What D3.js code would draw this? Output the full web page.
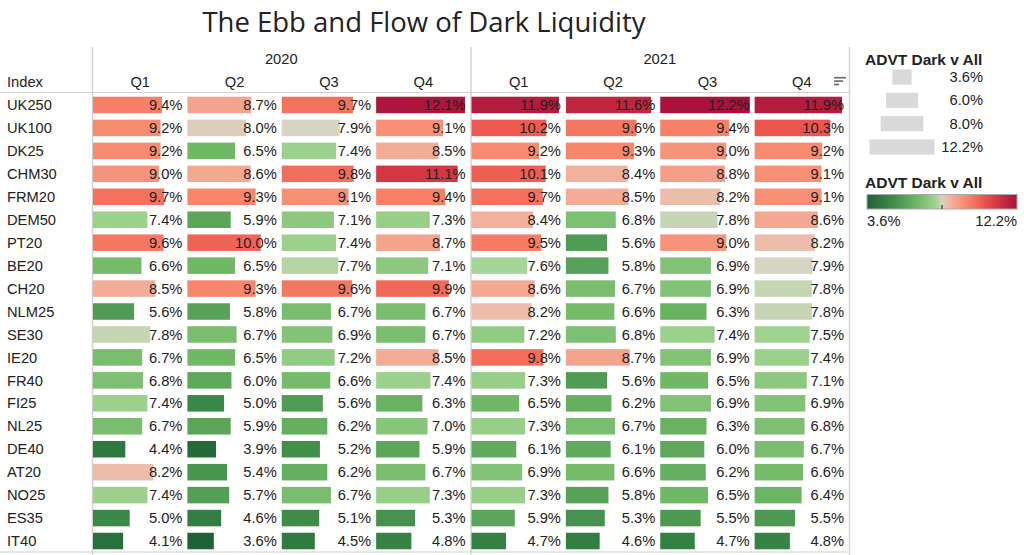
<!DOCTYPE html>
<html>
<head>
<meta charset="utf-8">
<script src="https://cdn.jsdelivr.net/npm/d3@7"></script>
<style>
  body { margin: 0; background: #fff; }
  text { font-family: "Liberation Sans", Arial, sans-serif; fill: #222; }
</style>
</head>
<body>
<div id="chart"></div>
<script>
const indices = ["UK250", "UK100", "DK25", "CHM30", "FRM20", "DEM50", "PT20", "BE20", "CH20", "NLM25",
  "SE30", "IE20", "FR40", "FI25", "NL25", "DE40", "AT20", "NO25", "ES35", "IT40"];
const years = ["2020", "2021"];
const quarters = ["Q1", "Q2", "Q3", "Q4"];

const q1_2020 = [9.4, 9.2, 9.2, 9.0, 9.7, 7.4, 9.6, 6.6, 8.5, 5.6, 7.8, 6.7, 6.8, 7.4, 6.7, 4.4, 8.2, 7.4, 5.0, 4.1];
const q2_2020 = [8.7, 8.0, 6.5, 8.6, 9.3, 5.9, 10.0, 6.5, 9.3, 5.8, 6.7, 6.5, 6.0, 5.0, 5.9, 3.9, 5.4, 5.7, 4.6, 3.6];
const q3_2020 = [9.7, 7.9, 7.4, 9.8, 9.1, 7.1, 7.4, 7.7, 9.6, 6.7, 6.9, 7.2, 6.6, 5.6, 6.2, 5.2, 6.2, 6.7, 5.1, 4.5];
const q4_2020 = [12.1, 9.1, 8.5, 11.1, 9.4, 7.3, 8.7, 7.1, 9.9, 6.7, 6.7, 8.5, 7.4, 6.3, 7.0, 5.9, 6.7, 7.3, 5.3, 4.8];
const q1_2021 = [11.9, 10.2, 9.2, 10.1, 9.7, 8.4, 9.5, 7.6, 8.6, 8.2, 7.2, 9.8, 7.3, 6.5, 7.3, 6.1, 6.9, 7.3, 5.9, 4.7];
const q2_2021 = [11.6, 9.6, 9.3, 8.4, 8.5, 6.8, 5.6, 5.8, 6.7, 6.6, 6.8, 8.7, 5.6, 6.2, 6.7, 6.1, 6.6, 5.8, 5.3, 4.6];
const q3_2021 = [12.2, 9.4, 9.0, 8.8, 8.2, 7.8, 9.0, 6.9, 6.9, 6.3, 7.4, 6.9, 6.5, 6.9, 6.3, 6.0, 6.2, 6.5, 5.5, 4.7];
const q4_2021 = [11.9, 10.3, 9.2, 9.1, 9.1, 8.6, 8.2, 7.9, 7.8, 7.8, 7.5, 7.4, 7.1, 6.9, 6.8, 6.7, 6.6, 6.4, 5.5, 4.8];

const sizeLegendValues = [3.6, 6.0, 8.0, 12.2];
const colorDomain = [3.6, 5.0, 6.5, 7.6, 7.9, 8.3, 9.3, 10.5, 12.2];
const colorRange = ["#1f6235", "#3b8948", "#70b866", "#a5d695", "#d6d4c3", "#f1b6a3", "#f8866a", "#e94b47", "#a8123b"];

const columns = [
  { year: "2020", quarter: "Q1", values: q1_2020 },
  { year: "2020", quarter: "Q2", values: q2_2020 },
  { year: "2020", quarter: "Q3", values: q3_2020 },
  { year: "2020", quarter: "Q4", values: q4_2020 },
  { year: "2021", quarter: "Q1", values: q1_2021 },
  { year: "2021", quarter: "Q2", values: q2_2021 },
  { year: "2021", quarter: "Q3", values: q3_2021 },
  { year: "2021", quarter: "Q4", values: q4_2021 },
];

const cells = [];
columns.forEach((c) => {
  c.values.forEach((v, i) => cells.push({ year: c.year, quarter: c.quarter, index: indices[i], value: v }));
});

const width = 1024;
const height = 555;
const table = { left: 92, right: 849, top: 93.5, bottom: 552.5, headTop: 47 };

const svg = d3
  .select("#chart")
  .append("svg")
  .attr("width", width)
  .attr("height", height)
  .attr("viewBox", [0, 0, width, height]);

const fmt = (v) => d3.format(".1f")(v) + "%";

const yearX = d3.scaleBand(years, [table.left, table.right]);
const quarterX = d3.scaleBand(quarters, [1, yearX.bandwidth()]);
const y = d3.scaleBand(indices, [table.top, table.bottom]).paddingInner(0.28).paddingOuter(0.14);
const len = d3.scaleLinear([0, 12.8], [0, 94]);
const color = d3.scaleLinear(colorDomain, colorRange);

const colLeft = (d) => yearX(d.year) + quarterX(d.quarter);

// Title
svg
  .append("text")
  .attr("x", 424)
  .attr("y", 32)
  .attr("text-anchor", "middle")
  .style("font-family", "'Open Sans', sans-serif")
  .style("font-size", "27.5px")
  .text("The Ebb and Flow of Dark Liquidity");

// Grid lines
const grid = svg.append("g").attr("stroke", "#d0d0d0").attr("fill", "none");
grid.append("line").attr("x1", 0).attr("x2", table.right).attr("y1", 92.5).attr("y2", 92.5);
grid.append("line").attr("x1", 0).attr("x2", table.right).attr("y1", 552).attr("y2", 552);
grid
  .selectAll("line.v")
  .data([table.left, yearX("2021"), table.right])
  .join("line")
  .attr("class", "v")
  .attr("x1", (d) => d + 0.5)
  .attr("x2", (d) => d + 0.5)
  .attr("y1", table.headTop)
  .attr("y2", height)
  .attr("stroke-width", 1.4);

// Header
const head = svg.append("g").style("font-size", "14.7px");
head.append("text").attr("x", 7).attr("y", 81.7).attr("dy", "0.35em").text("Index");
head
  .selectAll("text.year")
  .data(years)
  .join("text")
  .attr("class", "year")
  .attr("x", (d) => yearX(d) + yearX.bandwidth() / 2)
  .attr("y", 59)
  .attr("dy", "0.35em")
  .attr("text-anchor", "middle")
  .text((d) => d);
head
  .selectAll("text.q")
  .data(columns)
  .join("text")
  .attr("class", "q")
  .attr("x", (d) => colLeft(d) + quarterX.bandwidth() / 2)
  .attr("y", 81.7)
  .attr("dy", "0.35em")
  .attr("text-anchor", "middle")
  .text((d) => d.quarter);

// Sort icon
svg
  .append("g")
  .attr("stroke", "#666")
  .attr("stroke-width", 1.6)
  .selectAll("line")
  .data([12, 9, 5])
  .join("line")
  .attr("x1", 834)
  .attr("x2", (d) => 834 + d)
  .attr("y1", (d, i) => 77.7 + i * 3.4)
  .attr("y2", (d, i) => 77.7 + i * 3.4);

// Row labels
svg
  .append("g")
  .style("font-size", "14.7px")
  .selectAll("text")
  .data(indices)
  .join("text")
  .attr("x", 7)
  .attr("y", (d) => y(d) + y.bandwidth() / 2)
  .attr("dy", "0.35em")
  .text((d) => d);

// Bars
svg
  .append("g")
  .selectAll("rect")
  .data(cells)
  .join("rect")
  .attr("x", colLeft)
  .attr("y", (d) => y(d.index))
  .attr("width", (d) => len(d.value))
  .attr("height", y.bandwidth())
  .attr("fill", (d) => color(d.value));

// Value labels
svg
  .append("g")
  .style("font-size", "14.7px")
  .selectAll("text")
  .data(cells)
  .join("text")
  .attr("x", (d) => colLeft(d) + quarterX.bandwidth() - 5)
  .attr("y", (d) => y(d.index) + y.bandwidth() / 2)
  .attr("dy", "0.35em")
  .attr("text-anchor", "end")
  .text((d) => fmt(d.value));

// Size legend
const sizeLeg = svg.append("g");
sizeLeg
  .append("text")
  .attr("x", 865)
  .attr("y", 60)
  .attr("dy", "0.35em")
  .style("font-size", "15.5px")
  .style("font-weight", "bold")
  .text("ADVT Dark v All");
const sizeW = d3.scaleLinear([0, 12.2], [0, 65]);
const sizeY = d3.scaleBand(sizeLegendValues, [65.5, 158.5]).paddingInner(0.35).paddingOuter(0.17);
sizeLeg
  .selectAll("rect")
  .data(sizeLegendValues)
  .join("rect")
  .attr("x", (d) => 902 - sizeW(d) / 2)
  .attr("y", (d) => sizeY(d))
  .attr("width", (d) => sizeW(d))
  .attr("height", sizeY.bandwidth())
  .attr("fill", "#d9d9d9");
sizeLeg
  .selectAll("text.lbl")
  .data(sizeLegendValues)
  .join("text")
  .attr("class", "lbl")
  .attr("x", 983)
  .attr("y", (d) => sizeY(d) + sizeY.bandwidth() / 2)
  .attr("dy", "0.35em")
  .attr("text-anchor", "end")
  .style("font-size", "14.7px")
  .text((d) => fmt(d));

// Colour legend
const colLeg = svg.append("g");
colLeg
  .append("text")
  .attr("x", 865)
  .attr("y", 182.7)
  .attr("dy", "0.35em")
  .style("font-size", "15.5px")
  .style("font-weight", "bold")
  .text("ADVT Dark v All");

const legX = d3.scaleLinear([3.6, 12.2], [867, 1017]);
const grad = svg
  .append("defs")
  .append("linearGradient")
  .attr("id", "grad")
  .attr("x1", "0%")
  .attr("x2", "100%");
grad
  .selectAll("stop")
  .data(d3.range(0, 1.0001, 0.02))
  .join("stop")
  .attr("offset", (t) => t)
  .attr("stop-color", (t) => color(3.6 + t * 8.6));

colLeg
  .append("rect")
  .attr("x", legX(3.6))
  .attr("y", 194.5)
  .attr("width", legX(12.2) - legX(3.6))
  .attr("height", 14.5)
  .attr("fill", "url(#grad)")
  .attr("stroke", "#aaa");
colLeg
  .append("line")
  .attr("x1", legX(7.9))
  .attr("x2", legX(7.9))
  .attr("y1", 205)
  .attr("y2", 209)
  .attr("stroke", "#333")
  .attr("stroke-width", 1.2);
colLeg
  .selectAll("text.lbl")
  .data([3.6, 12.2])
  .join("text")
  .attr("class", "lbl")
  .attr("x", (d) => legX(d))
  .attr("y", 220.5)
  .attr("dy", "0.35em")
  .attr("text-anchor", (d, i) => (i === 0 ? "start" : "end"))
  .style("font-size", "14.7px")
  .text((d) => fmt(d));
</script>
</body>
</html>
